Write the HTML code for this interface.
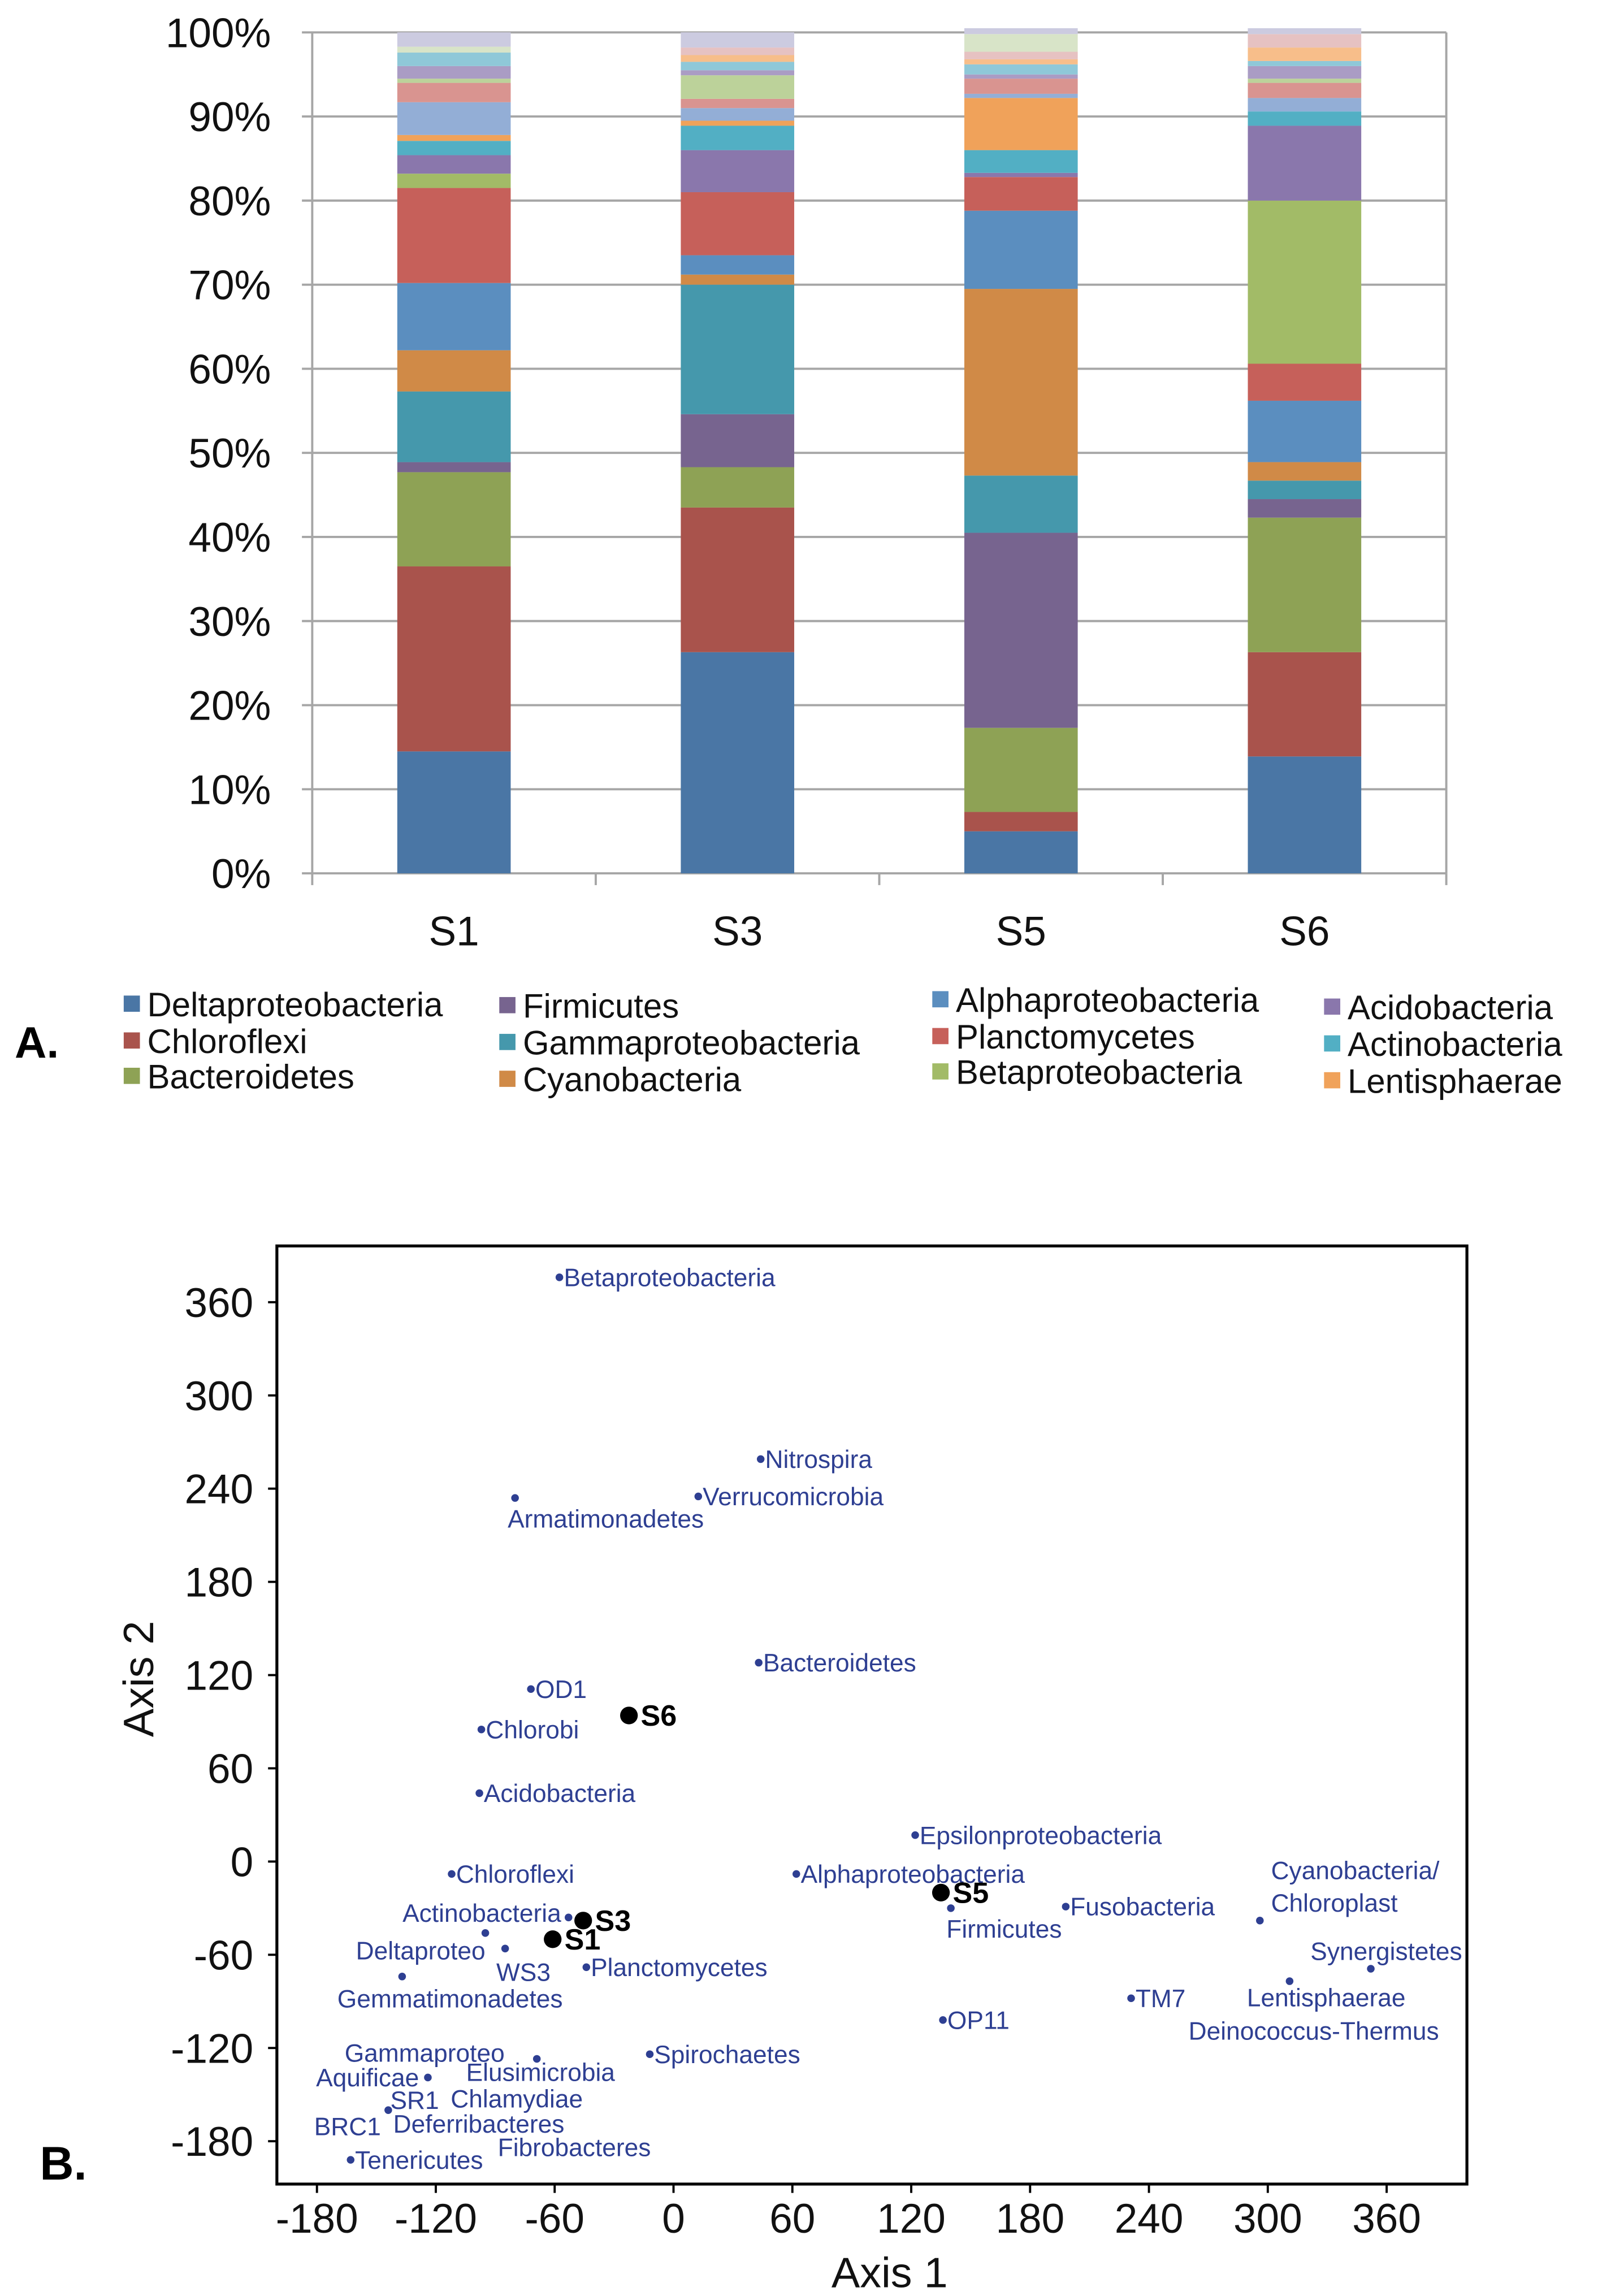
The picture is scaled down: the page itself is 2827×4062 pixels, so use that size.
<!DOCTYPE html>
<html><head><meta charset="utf-8"><style>
html,body{margin:0;padding:0;background:#fff;}
svg{display:block;font-family:"Liberation Sans",Arial,sans-serif;}
</style></head><body>
<svg id="fig" width="2827" height="4062" viewBox="0 0 1085 1559" preserveAspectRatio="none" xmlns="http://www.w3.org/2000/svg">
<g id="chartA"></g>
<g id="legendA"></g>
<text x="10" y="718" font-size="30" font-weight="bold">A.</text>
<g id="chartB"></g>
<text x="27" y="1480" font-size="32" font-weight="bold">B.</text>
</svg>
<script>
const NS="http://www.w3.org/2000/svg";
const samples=["S1","S3","S5","S6"];
const taxa=["Deltaproteobacteria","Chloroflexi","Bacteroidetes","Firmicutes","Gammaproteobacteria","Cyanobacteria","Alphaproteobacteria","Planctomycetes","Betaproteobacteria","Acidobacteria","Actinobacteria","Lentisphaerae","o1","o2","o3","o4","o5","o6","o7","o8","o9"];
const taxaColors=["#4a76a5","#a9534c","#8ea255","#77648f","#4598ac","#d08a47","#5b8ebf","#c6605a","#a2bb67","#8a77ac","#52afc4","#f0a25a","#93aed6","#d99490","#bcd29a","#aa9cc4","#8fc8d8","#f7be8a","#e6c2c2","#d8e4c8","#cccbe0"];
// cumulative tops (%) per taxon per sample
const topsS1=[14.5,36.5,47.7,48.9,57.3,62.2,70.2,81.5,83.2,85.4,87.1,87.8,91.7,94.0,94.5,96.0,97.6,97.6,97.6,98.3,100];
const topsS3=[26.3,43.5,48.3,54.6,70.0,71.2,73.5,81.0,81.0,86.0,88.9,89.5,91.0,92.1,94.9,95.5,96.5,97.3,98.2,98.2,100];
const topsS5=[5.0,7.3,17.3,40.5,47.3,69.5,78.8,82.8,82.8,83.3,86.0,92.2,92.7,94.5,94.5,95.0,96.2,96.8,97.7,99.8,100.5];
const topsS6=[13.9,26.3,42.3,44.5,46.7,48.9,56.2,60.6,80.0,88.9,90.6,90.6,92.2,94.0,94.5,96.0,96.6,98.2,99.8,99.8,100.5];
const allTops=[topsS1,topsS3,topsS5,topsS6];
const yTicksA=[0,10,20,30,40,50,60,70,80,90,100];

function el(tag,attrs,parent,text){const e=document.createElementNS(NS,tag);for(const k in attrs)e.setAttribute(k,attrs[k]);if(text!==undefined)e.textContent=text;parent.appendChild(e);return e;}

// Chart A
const A=document.getElementById('chartA');
const aL=212,aR=982,aT=22,aB=593;
const yA=v=>aB-(aB-aT)*v/100;
const bandW=(aR-aL)/samples.length;
const xA=i=>aL+bandW*(i+0.5);
yTicksA.forEach(t=>{
  const g=el('line',{x1:aL-7,x2:aR,y1:yA(t),y2:yA(t),stroke:'#a6a6a6','stroke-width':1.5},A);
  
  const tx=el('text',{x:aL-28,y:yA(t)+10,'font-size':28,'text-anchor':'end',fill:'#111'},A,t+'%');
  
});
el('line',{x1:aL,x2:aL,y1:aT,y2:aB,stroke:'#a6a6a6','stroke-width':1.5},A);
el('line',{x1:aR,x2:aR,y1:aT,y2:aB,stroke:'#a6a6a6','stroke-width':1.5},A);
for(let i=0;i<=samples.length;i++){el('line',{x1:aL+bandW*i,x2:aL+bandW*i,y1:aB,y2:aB+8,stroke:'#a6a6a6','stroke-width':1.5},A);}
samples.forEach((s,i)=>{
  const tops=allTops[i];let prev=0;
  tops.forEach((t,j)=>{
    if(t>prev){const r=el('rect',{x:xA(i)-38.5,y:yA(t),width:77,height:yA(prev)-yA(t),fill:taxaColors[j]},A);
    
    }
    prev=Math.max(prev,t);
  });
  const lb=el('text',{x:xA(i),y:642,'font-size':28,'text-anchor':'middle',fill:'#111'},A,s);
  
});
// Legend
const L=document.getElementById('legendA');
const legCols=[[87,[690,715,739]],[342,[691,716,741]],[636,[687,712,736]],[902,[692,717,742]]];
const legOrder=[[0,1,2],[3,4,5],[6,7,8],[9,10,11]];
legOrder.forEach((col,c)=>{col.forEach((ti,r)=>{
  const x=legCols[c][0],y=legCols[c][1][r];
  const sq=el('rect',{x:x-3,y:y-14,width:11,height:11,fill:taxaColors[ti]},L);
  
  const t=el('text',{x:x+13,y:y,'font-size':23,fill:'#111'},L,taxa[ti]);
  
});});

// Chart B
const names=["Betaproteobacteria","Nitrospira","Verrucomicrobia","Armatimonadetes","Bacteroidetes","OD1","Chlorobi","Acidobacteria","Epsilonproteobacteria","Chloroflexi","Alphaproteobacteria","Firmicutes","Fusobacteria","Cyanobacteria/Chloroplast","Actinobacteria","Deltaproteo","WS3","Planctomycetes","Gemmatimonadetes","Synergistetes","Lentisphaerae","TM7","OP11","Spirochaetes","Elusimicrobia","Aquificae","BRC1","Tenericutes"];
const ax1=[-57.6,44,12.5,-80,43,-72,-97,-98,122,-112,62,140,198,296,-53,-95,-85,-44,-137,352,311,231,136,-12,-69,-124,-144,-163];
const ax2=[376,259,235,234,128,111,85,44,17,-8,-8,-30,-29,-38,-36,-46,-56,-68,-74,-69,-77,-88,-102,-124,-127,-139,-160,-192];
const sampleNames=["S6","S5","S3","S1"];
const sx=[-22.5,135,-45.6,-61];
const sy=[94,-20,-38,-50];
const xTicksB=[-180,-120,-60,0,60,120,180,240,300,360];
const yTicksB=[-180,-120,-60,0,60,120,180,240,300,360];
// label layout overrides (dx,dy,anchor) — presentation only
const labelLayout={"Armatimonadetes":[-5,20,'start'],"Firmicutes":[-3,20,'start'],"Cyanobacteria/Chloroplast":[null],"Actinobacteria":[-5,3,'end'],"Deltaproteo":[0,18,'end'],"WS3":[-6,22,'start'],"Gemmatimonadetes":[-44,21,'start'],"Synergistetes":[62,-6,'end'],"Lentisphaerae":[-29,17,'start'],"Elusimicrobia":[-48,15,'start'],"Aquificae":[-6,6,'end'],"BRC1":[-5,17,'end']};
const extraLabels=[["Cyanobacteria/",863,1276],["Chloroplast",863,1298],["Deinococcus-Thermus",807,1385],["Gammaproteo",234,1400],["SR1",265,1432],["Chlamydiae",306,1431],["Deferribacteres",267,1448],["Fibrobacteres",338,1464]];
const B=document.getElementById('chartB');
const bL=188,bR=996,bT=846,bB=1483;
const xB=v=>457.3+v*80.7/60;
const yB=v=>1264-v*63.3/60;
const fr=el('rect',{x:bL,y:bT,width:bR-bL,height:bB-bT,fill:'none',stroke:'#000','stroke-width':2},B);

xTicksB.forEach(t=>{el('line',{x1:xB(t),x2:xB(t),y1:bB,y2:bB+6,stroke:'#000','stroke-width':1.5},B);
  const tx=el('text',{x:xB(t),y:bB+33,'font-size':28,'text-anchor':'middle',fill:'#111'},B,String(t));
  });
yTicksB.forEach(t=>{el('line',{x1:bL-6,x2:bL,y1:yB(t),y2:yB(t),stroke:'#000','stroke-width':1.5},B);
  const tx=el('text',{x:bL-16,y:yB(t)+10,'font-size':28,'text-anchor':'end',fill:'#111'},B,String(t));
  });
const xt=el('text',{x:604,y:1553,'font-size':29,'text-anchor':'middle',fill:'#111'},B,'Axis 1');

const yt=el('text',{x:0,y:0,'font-size':29,'text-anchor':'middle',fill:'#111',transform:'translate(104,1140) rotate(-90)'},B,'Axis 2');

names.forEach((n,i)=>{
  const cx=xB(ax1[i]),cy=yB(ax2[i]);
  const d=el('circle',{cx:cx,cy:cy,r:2.6,fill:'#2e3f92'},B);
  
  
  const lay=labelLayout[n];
  if(lay&&lay[0]===null)return;
  let dx=3,dy=6,anc='start';
  if(lay){dx=lay[0];dy=lay[1];anc=lay[2];}
  const t=el('text',{x:cx+dx,y:cy+dy,'font-size':17,fill:'#2e3f92','text-anchor':anc},B,n);
  
});
extraLabels.forEach(e=>{const t=el('text',{x:e[1],y:e[2],'font-size':17,fill:'#2e3f92'},B,e[0]);
  });
sampleNames.forEach((s,i)=>{
  const cx=xB(sx[i]),cy=yB(sy[i]);
  const d=el('circle',{cx:cx,cy:cy,r:6,fill:'#000'},B);
  
  
  const t=el('text',{x:cx+8,y:cy+7,'font-size':20,'font-weight':'bold',fill:'#000'},B,s);
  
});
</script>
</body></html>
